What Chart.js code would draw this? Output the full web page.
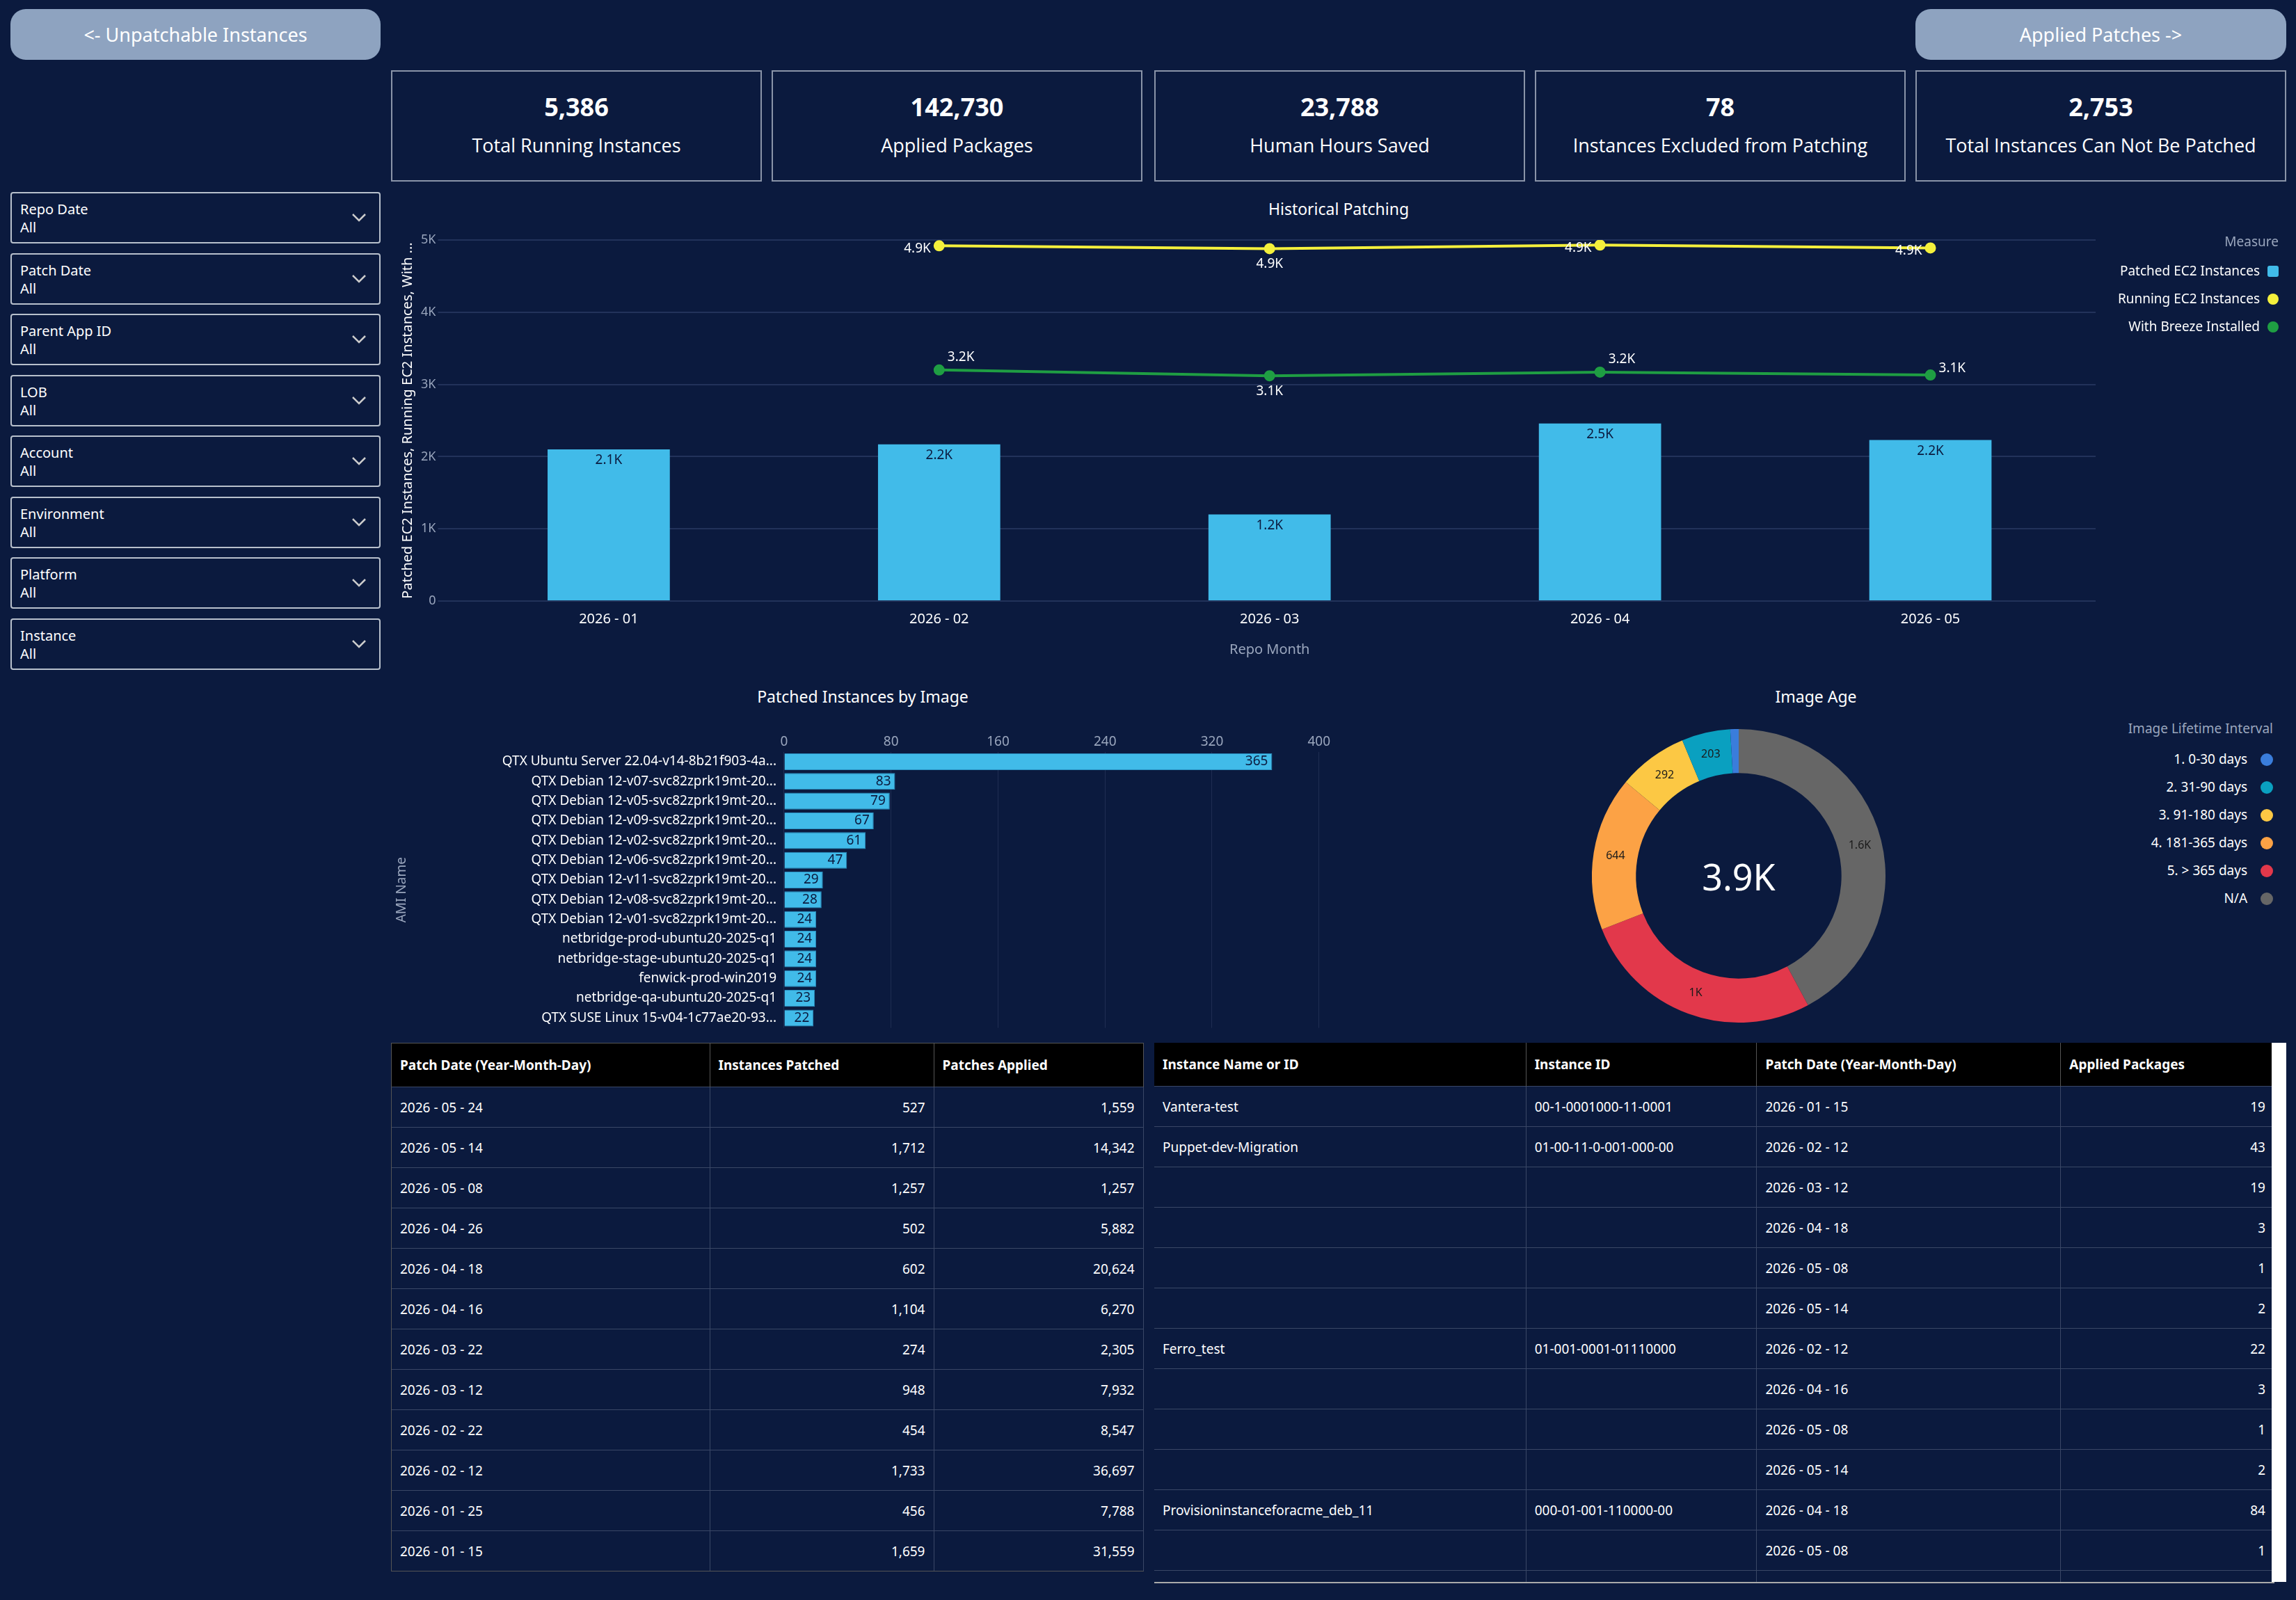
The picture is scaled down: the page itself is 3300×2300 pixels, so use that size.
<!DOCTYPE html>
<html><head><meta charset="utf-8">
<script src="https://cdn.jsdelivr.net/npm/chart.js@4"></script>
<style>
body{margin:0;width:3300px;height:2300px;background:#0b1a3e;font-family:"Noto Sans",sans-serif;color:#fff;overflow:hidden;position:relative}
.abs{position:absolute}
.btn{background:#8ea3c0;border-radius:22px;color:#fff;font-size:27px;display:flex;align-items:center;justify-content:center}
.kpi{border:2px solid #8a94a8;box-sizing:border-box;text-align:center;font-family:"Open Sans",sans-serif}
.kpi .v{font-size:36px;font-weight:700;margin-top:26px}
.kpi .l{font-size:27px;margin-top:12px}
.flt{border:2px solid #b8c0cc;border-radius:4px;box-sizing:border-box;left:15px;width:532px;height:74px;font-size:20px;padding:10px 0 0 12px;line-height:26px}
.flt svg{position:absolute;right:18px;top:28px}
.ttl{font-size:23px;color:#fff;text-align:center}
.leg{font-size:19px;color:#fff;text-align:right}
table{border-collapse:collapse;font-size:19px;color:#fff;table-layout:fixed}
th{background:#000;font-weight:700;text-align:left;height:62px;padding:0 12px;border-right:1px solid #555}
td{height:57px;padding:0 12px;border-top:1px solid #3a4766;border-right:1px solid #3a4766}
td.n{text-align:right}
</style></head><body>
<div class="abs btn" style="left:15px;top:13px;width:532px;height:73px">&lt;- Unpatchable Instances</div>
<div class="abs btn" style="left:2753px;top:13px;width:533px;height:73px">Applied Patches -&gt;</div>
<div id="kpis"></div>
<div id="filters"></div>

<div class="abs ttl" style="left:1624px;top:284px;width:600px">Historical Patching</div>
<div class="abs" style="left:562px;top:320px;width:2460px;height:630px"><canvas id="hist"></canvas></div>
<div class="abs leg" id="histLeg" style="left:2900px;top:334px;width:375px"></div>

<div class="abs ttl" style="left:940px;top:985px;width:600px">Patched Instances by Image</div>
<div class="abs" style="left:562px;top:1052px;width:1353px;height:440px"><canvas id="ami"></canvas></div>

<div class="abs ttl" style="left:2310px;top:985px;width:600px">Image Age</div>
<div class="abs" style="left:2269px;top:1029px;width:460px;height:460px"><canvas id="donut"></canvas></div>
<div class="abs" style="left:2269px;top:1029px;width:460px;height:460px;display:flex;align-items:center;justify-content:center;font-size:52px">3.9K</div>
<div class="abs leg" id="donutLeg" style="left:2900px;top:1034px;width:367px"></div>

<div class="abs" style="left:562px;top:1499px;width:1080px;border:1px solid #555" id="t1"></div>
<div class="abs" style="left:1659px;top:1499px;width:1610px;height:775px;border-bottom:2px solid #aaa;overflow:hidden" id="t2"></div>
<div class="abs" style="left:3265px;top:1499px;width:21px;height:775px;background:#fff"></div>

<script>
const kpiValues=["5,386","142,730","23,788","78","2,753"];
const kpiLabels=["Total Running Instances","Applied Packages","Human Hours Saved","Instances Excluded from Patching","Total Instances Can Not Be Patched"];
const filterNames=["Repo Date","Patch Date","Parent App ID","LOB","Account","Environment","Platform","Instance"];
const months=["2026 - 01","2026 - 02","2026 - 03","2026 - 04","2026 - 05"];
const patchedEC2=[2100,2170,1200,2460,2230];
const runningEC2=[null,4920,4880,4930,4890];
const breezeInstalled=[null,3200,3120,3170,3130];
const amiNames=["QTX Ubuntu Server 22.04-v14-8b21f903-4a...","QTX Debian 12-v07-svc82zprk19mt-20...","QTX Debian 12-v05-svc82zprk19mt-20...","QTX Debian 12-v09-svc82zprk19mt-20...","QTX Debian 12-v02-svc82zprk19mt-20...","QTX Debian 12-v06-svc82zprk19mt-20...","QTX Debian 12-v11-svc82zprk19mt-20...","QTX Debian 12-v08-svc82zprk19mt-20...","QTX Debian 12-v01-svc82zprk19mt-20...","netbridge-prod-ubuntu20-2025-q1","netbridge-stage-ubuntu20-2025-q1","fenwick-prod-win2019","netbridge-qa-ubuntu20-2025-q1","QTX SUSE Linux 15-v04-1c77ae20-93..."];
const amiCounts=[365,83,79,67,61,47,29,28,24,24,24,24,23,22];
const ageLabels=["1. 0-30 days","2. 31-90 days","3. 91-180 days","4. 181-365 days","5. > 365 days","N/A"];
const ageValues=[35,203,292,644,1020,1600];
const ageDisplay=["","203","292","644","1K","1.6K"];
const t1Head=["Patch Date (Year-Month-Day)","Instances Patched","Patches Applied"];
const t1Dates=["2026 - 05 - 24","2026 - 05 - 14","2026 - 05 - 08","2026 - 04 - 26","2026 - 04 - 18","2026 - 04 - 16","2026 - 03 - 22","2026 - 03 - 12","2026 - 02 - 22","2026 - 02 - 12","2026 - 01 - 25","2026 - 01 - 15"];
const t1Inst=["527","1,712","1,257","502","602","1,104","274","948","454","1,733","456","1,659"];
const t1Patches=["1,559","14,342","1,257","5,882","20,624","6,270","2,305","7,932","8,547","36,697","7,788","31,559"];
const t2Head=["Instance Name or ID","Instance ID","Patch Date (Year-Month-Day)","Applied Packages"];
const t2Names=["Vantera-test","Puppet-dev-Migration","","","","","Ferro_test","","","","Provisioninstanceforacme_deb_11","",""];
const t2Ids=["00-1-0001000-11-0001","01-00-11-0-001-000-00","","","","","01-001-0001-01110000","","","","000-01-001-110000-00","",""];
const t2Dates=["2026 - 01 - 15","2026 - 02 - 12","2026 - 03 - 12","2026 - 04 - 18","2026 - 05 - 08","2026 - 05 - 14","2026 - 02 - 12","2026 - 04 - 16","2026 - 05 - 08","2026 - 05 - 14","2026 - 04 - 18","2026 - 05 - 08",""];
const t2Pkgs=["19","43","19","3","1","2","22","3","1","2","84","1",""];

const kx=[562,1109,1659,2206,2753];
document.getElementById('kpis').innerHTML=kpiValues.map((v,i)=>`<div class="abs kpi" style="left:${kx[i]}px;top:101px;width:533px;height:160px"><div class="v">${v}</div><div class="l">${kpiLabels[i]}</div></div>`).join('');
const chev='<svg width="22" height="14"><path d="M2 2 L11 11 L20 2" stroke="#ccc" stroke-width="2.5" fill="none"/></svg>';
document.getElementById('filters').innerHTML=filterNames.map((f,i)=>`<div class="abs flt" style="top:${276+i*87.5}px">${f}<br>All${chev}</div>`).join('');

function kfmt(v){return v>=1000?(v/1000).toFixed(1).replace('.0','')+'K':String(v);}
const histColors=['#41bbe9','#f4f03c','#1f9e43'];
const histNames=['Patched EC2 Instances','Running EC2 Instances','With Breeze Installed'];
document.getElementById('histLeg').innerHTML='<div style="color:#9aa6bd;margin-bottom:16px">Measure</div>'+histNames.map((n,i)=>`<div style="margin-bottom:14px">${n} <span style="display:inline-block;width:16px;height:16px;border-radius:${i?8:3}px;background:${histColors[i]};vertical-align:-2px;margin-left:6px"></span></div>`).join('');
const ageColors=['#3a7ddb','#0aa0c0','#fcc844','#fca245','#e2384b','#666666'];
document.getElementById('donutLeg').innerHTML='<div style="color:#9aa6bd;margin-bottom:18px">Image Lifetime Interval</div>'+ageLabels.map((n,i)=>`<div style="margin-bottom:14px">${n} <span style="display:inline-block;width:18px;height:18px;border-radius:9px;background:${ageColors[i]};vertical-align:-3px;margin-left:14px"></span></div>`).join('');

function table(el,head,cols,widths,numeric){
  let h='<table style="width:100%"><colgroup>'+widths.map(w=>`<col style="width:${w}px">`).join('')+'</colgroup><tr>'+head.map(x=>`<th>${x}</th>`).join('')+'</tr>';
  for(let r=0;r<cols[0].length;r++){h+='<tr>'+cols.map((c,j)=>`<td class="${numeric[j]?'n':''}">${c[r]}</td>`).join('')+'</tr>';}
  document.getElementById(el).innerHTML=h+'</table>';
}
table('t1',t1Head,[t1Dates,t1Inst,t1Patches],[457,322,301],[0,1,1]);
table('t2',t2Head,[t2Names,t2Ids,t2Dates,t2Pkgs],[533,331,436,306],[0,0,0,1]);

Chart.defaults.font.family='"Noto Sans",sans-serif';
Chart.defaults.color='#fff';
const labelPlugin={id:'lbl',afterDatasetsDraw(c,a,opts){
  const ctx=c.ctx;ctx.save();
  c.data.datasets.forEach((ds,di)=>{
    const meta=c.getDatasetMeta(di);const cfg=(opts.sets||[])[di];if(!cfg)return;
    meta.data.forEach((el,i)=>{const v=ds.data[i];if(v==null)return;
      ctx.font=cfg.font;ctx.fillStyle=cfg.color;
      let x=el.x,y=el.y,txt=cfg.fmt(v,i);
      const off=cfg.off(i,el);ctx.textAlign=off[2]||'center';ctx.textBaseline='middle';
      ctx.fillText(txt,x+off[0],y+off[1]);});
  });ctx.restore();}};

new Chart(document.getElementById('hist'),{data:{labels:months,datasets:[
 {type:'line',label:histNames[1],data:runningEC2,borderColor:histColors[1],backgroundColor:histColors[1],borderWidth:4,pointRadius:6,order:1},
 {type:'line',label:histNames[2],data:breezeInstalled,borderColor:histColors[2],backgroundColor:histColors[2],borderWidth:4,pointRadius:6,order:2},
 {type:'bar',label:histNames[0],data:patchedEC2,backgroundColor:histColors[0],barPercentage:0.37,categoryPercentage:1,order:3}
]},options:{responsive:true,maintainAspectRatio:false,devicePixelRatio:1,animation:false,
 layout:{padding:{top:25,left:8}},
 plugins:{legend:{display:false},tooltip:{enabled:false},
  lbl:{sets:[
   {font:'19px "Noto Sans"',color:'#fff',fmt:kfmt,off:i=>i==2?[0,22]:[-12,4,'right']},
   {font:'19px "Noto Sans"',color:'#fff',fmt:kfmt,off:i=>i==2?[0,22]:i==4?[12,-10,'left']:[12,-18,'left']},
   {font:'19px "Noto Sans"',color:'#0b1a3e',fmt:kfmt,off:()=>[0,16]}]}},
 scales:{x:{grid:{display:false},border:{display:false},ticks:{font:{size:20},color:'#fff',padding:6},
   title:{display:true,text:'Repo Month',color:'#9aa6bd',font:{size:20},padding:{top:14}}},
  y:{min:0,max:5000,ticks:{stepSize:1000,callback:v=>kfmt(v),color:'#9aa6bd',font:{size:18}},grid:{color:'#22325a',lineWidth:2},border:{display:false},
   title:{display:true,text:'Patched EC2 Instances, Running EC2 Instances, With ...',color:'#fff',font:{size:20}}}}},
 plugins:[labelPlugin]});

new Chart(document.getElementById('ami'),{type:'bar',data:{labels:amiNames,datasets:[{data:amiCounts,backgroundColor:'#41bbe9',borderColor:'#2a8fc0',borderWidth:1,barPercentage:0.85,categoryPercentage:1}]},
 options:{indexAxis:'y',responsive:true,maintainAspectRatio:false,devicePixelRatio:1,animation:false,
 plugins:{legend:{display:false},tooltip:{enabled:false},
  lbl:{sets:[{font:'19px "Noto Sans"',color:'#0b1a3e',fmt:v=>String(v),off:()=>[-6,0,'right']}]}},
 scales:{x:{position:'top',min:0,max:400,ticks:{stepSize:80,color:'#9aa6bd',font:{size:19}},grid:{color:'#1f2d52',drawTicks:false},border:{display:false}},
  y:{grid:{display:false},border:{display:false},ticks:{color:'#fff',font:{size:19},autoSkip:false},
   title:{display:true,text:'AMI Name',color:'#9aa6bd',font:{size:19},padding:{bottom:130}}}}},
 plugins:[labelPlugin]});

const rev=a=>a.slice().reverse();
new Chart(document.getElementById('donut'),{type:'doughnut',data:{labels:rev(ageLabels),datasets:[{data:rev(ageValues),backgroundColor:rev(ageColors),borderWidth:0}]},
 options:{responsive:true,maintainAspectRatio:false,devicePixelRatio:1,animation:false,radius:211,cutout:'70%',rotation:0,
 plugins:{legend:{display:false},tooltip:{enabled:false},
  lbl:{sets:[{font:'16px "Noto Sans"',color:'#1a1a1a',fmt:(v,i)=>rev(ageDisplay)[i],off:(i,el)=>{const p=el.tooltipPosition();return [p.x-el.x,p.y-el.y];}}]}}},
 plugins:[labelPlugin]});
</script></body></html>
